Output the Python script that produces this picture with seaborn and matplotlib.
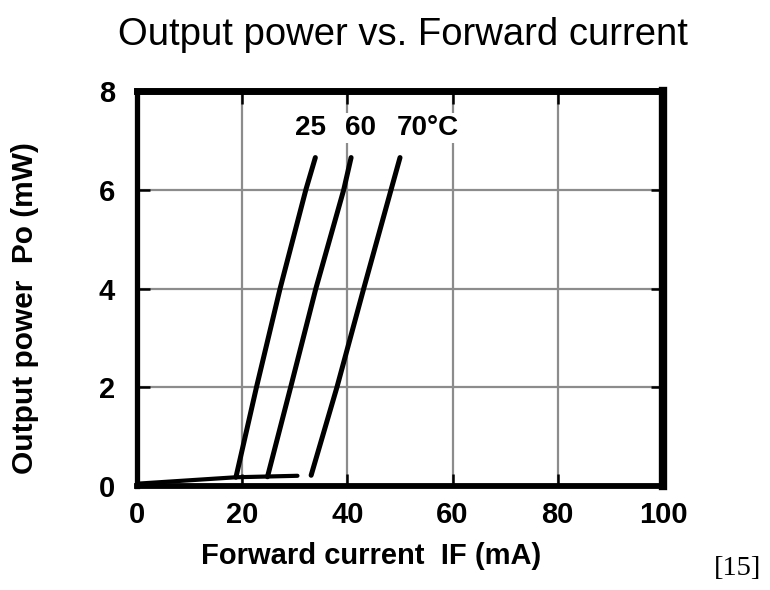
import matplotlib
matplotlib.use("Agg")
import matplotlib.pyplot as plt
import seaborn as sns
import numpy as np
import pandas as pd

# curves (IF in mA, Po in mW)
sub_current = [0, 18.8, 30.5]
sub_power = [0.05, 0.18, 0.21]

current_25 = [18.8, 22.7, 27.2, 32.1, 33.9]
power_25 = [0.18, 2.0, 4.0, 6.0, 6.65]

current_60 = [24.8, 29.2, 34.0, 39.3, 40.7]
power_60 = [0.19, 2.0, 4.0, 6.0, 6.65]

current_70 = [33.1, 38.0, 43.1, 48.3, 50.0]
power_70 = [0.22, 2.0, 4.0, 6.0, 6.65]

curve_labels = ["25", "60", "70°C"]
label_x = [32.9, 42.4, 55.2]
label_y = 7.25

x_ticks = [0, 20, 40, 60, 80, 100]
y_ticks = [0, 2, 4, 6, 8]

sns.set_theme(style="white")
plt.rcParams['font.family'] = ['Liberation Sans', 'DejaVu Sans']
plt.rcParams['text.color'] = 'black'
plt.rcParams['xtick.color'] = 'black'
plt.rcParams['ytick.color'] = 'black'

fig = plt.figure(figsize=(7.7, 5.9), dpi=100)
ax = fig.add_axes([0.178, 0.176, 0.683, 0.670])

ax.set_xlim(0, 100)
ax.set_ylim(0, 8)
ax.set_xticks(x_ticks)
ax.set_yticks(y_ticks)
ax.grid(True, color="#8c8c8c", lw=1.6)
ax.set_axisbelow(True)

sns.lineplot(x=sub_current, y=sub_power, ax=ax, color="black", lw=3.0, sort=False)
for cx, cy in [(current_25, power_25), (current_60, power_60), (current_70, power_70)]:
    sns.lineplot(x=cx, y=cy, ax=ax, color="black", lw=3.6, sort=False)

for lab, lx in zip(curve_labels, label_x):
    ax.text(lx, label_y, lab, ha="center", va="center", fontsize=20, fontweight="bold",
            bbox=dict(facecolor="white", edgecolor="none", pad=1.5))

for side, w in [("left", 3.8), ("bottom", 4.2), ("top", 5.0), ("right", 6.0)]:
    ax.spines[side].set_visible(True)
    ax.spines[side].set_color("black")
    ax.spines[side].set_linewidth(w)

ax.tick_params(axis="both", which="both", direction="in", length=9, width=1.8, color="black",
               top=True, right=True, bottom=True, left=True, labelsize=21)
ax.tick_params(axis="x", pad=11)
ax.tick_params(axis="y", pad=16)
for t in ax.get_xticklabels() + ax.get_yticklabels():
    t.set_fontweight("bold")

ax.set_xlabel("")
ax.set_ylabel("")

fig.text(0.523, 0.940, "Output power vs. Forward current", ha="center", va="center", fontsize=27.5)
fig.text(0.482, 0.057, "Forward current  IF (mA)", ha="center", va="center", fontsize=21, fontweight="bold")
fig.text(0.033, 0.478, "Output power  Po (mW)", ha="center", va="center", rotation=90,
         fontsize=21.5, fontweight="bold")
fig.text(0.958, 0.037, "[15]", ha="center", va="center", fontsize=20.5, family=["Liberation Serif", "DejaVu Serif"])

fig.savefig("out.png", dpi=100)
